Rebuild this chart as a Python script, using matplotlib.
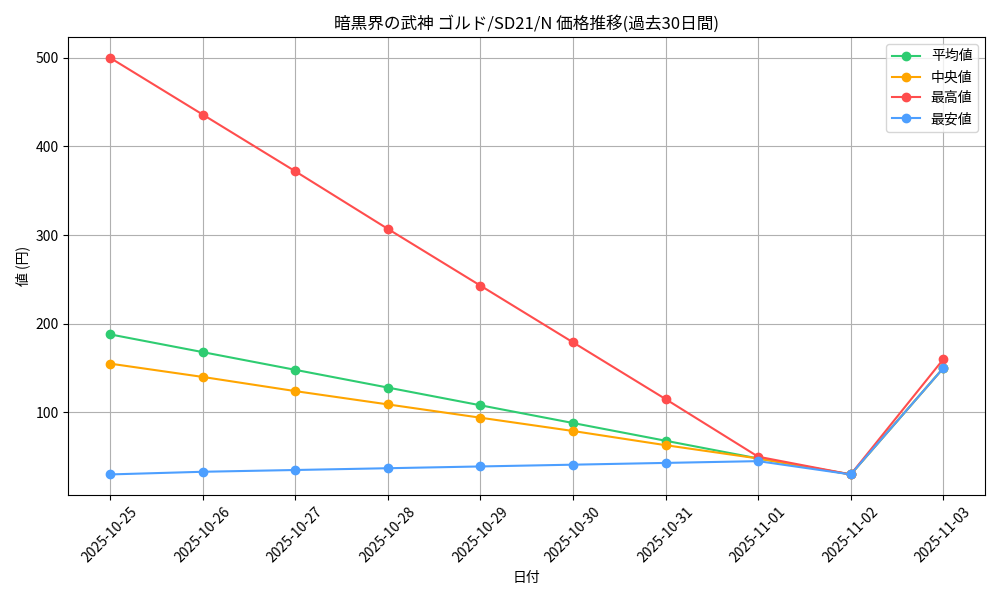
import matplotlib
matplotlib.use("Agg")
import matplotlib.pyplot as plt
from matplotlib import font_manager

# prefer the monospaced CJK face if it is installed
installed = {f.name for f in font_manager.fontManager.ttflist}
jp_font = "Noto Sans Mono CJK JP" if "Noto Sans Mono CJK JP" in installed else "Noto Sans CJK JP"
plt.rcParams["font.family"] = [jp_font, "DejaVu Sans"]

dates = ["2025-10-25", "2025-10-26", "2025-10-27", "2025-10-28", "2025-10-29",
         "2025-10-30", "2025-10-31", "2025-11-01", "2025-11-02", "2025-11-03"]

avg_price = [188, 168, 148, 128, 108, 88, 68, 48, 30, 150]
median_price = [155, 140, 124, 109, 94, 79, 63, 48, 30, 150]
max_price = [500, 436, 372, 307, 243, 179, 115, 50, 30, 160]
min_price = [30, 33, 35, 37, 39, 41, 43, 45, 30, 150]

# ---- price trend ----
fig, ax = plt.subplots(figsize=(10, 6), dpi=100)

ax.plot(dates, avg_price, marker="o", color="#2ecc71", label="平均値")
ax.plot(dates, median_price, marker="o", color="#ffa500", label="中央値")
ax.plot(dates, max_price, marker="o", color="#ff4d4d", label="最高値")
ax.plot(dates, min_price, marker="o", color="#4d9fff", label="最安値")

ax.set_title("暗黒界の武神 ゴルド/SD21/N 価格推移(過去30日間)")
ax.set_xlabel("日付")
ax.set_ylabel("値 (円)")
ax.grid(True)
ax.legend(loc="upper right")
plt.xticks(rotation=45)
plt.tight_layout()

plt.savefig("out.png")
plt.close()
